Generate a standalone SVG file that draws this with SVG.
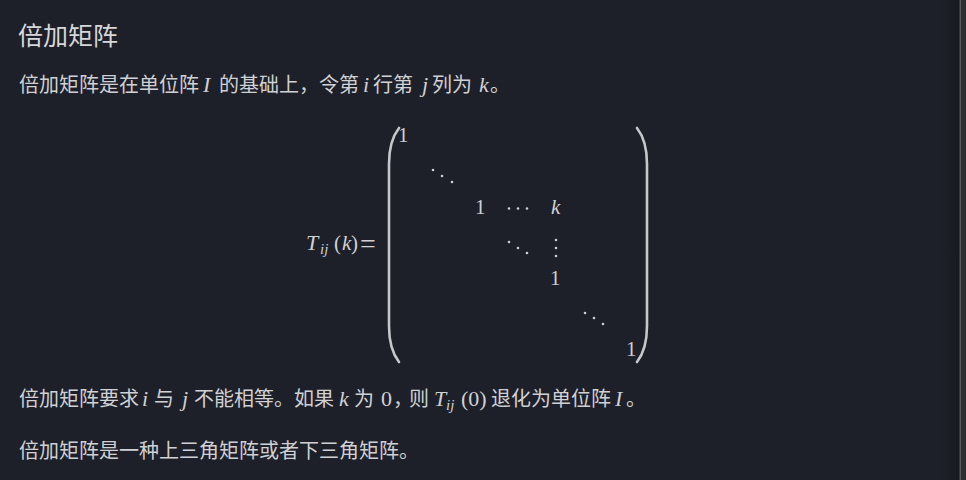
<svg xmlns="http://www.w3.org/2000/svg" width="966" height="480" viewBox="0 0 966 480">
<defs>
<linearGradient id="edge" x1="0" y1="0" x2="1" y2="0">
<stop offset="0" stop-color="#1e2029" stop-opacity="0"/>
<stop offset="1" stop-color="#17191f" stop-opacity="1"/>
</linearGradient>
<style>
.cjk{font-family:"Noto Sans CJK SC","Noto Sans",sans-serif;fill:#d0d1d4;font-size:20px}
.ttl{font-family:"Noto Sans CJK SC","Noto Sans",sans-serif;fill:#d6d7da;font-size:25px}
.m{font-family:"Liberation Serif","DejaVu Serif",serif;fill:#d0d1d4;font-size:22px}
.mi{font-style:italic}
.sub{font-size:15px}
.big{font-size:21px}
.dot{fill:#cdced1}
.par{fill:none;stroke:#c6c7ca;stroke-width:2.6;stroke-linecap:round}
</style>
</defs>
<rect x="0" y="0" width="966" height="480" fill="#1e2029"/>
<rect x="935" y="0" width="25" height="480" fill="url(#edge)"/>
<rect x="959.5" y="0" width="1.5" height="480" fill="#5a5b5e"/>
<rect x="961" y="0" width="5" height="480" fill="#2e2f31"/>

<g id="title"><text class="ttl" x="18" y="45">倍加矩阵</text></g>

<g id="line1">
<text class="cjk" x="19" y="92">倍加矩阵是在单位阵</text>
<text class="m mi" x="203" y="92">I</text>
<text class="cjk" x="219" y="92">的基础上，令第</text>
<text class="m mi" x="363" y="92">i</text>
<text class="cjk" x="373" y="92">行第</text>
<text class="m mi" x="422" y="92">j</text>
<text class="cjk" x="432" y="92">列为</text>
<text class="m mi" x="479" y="92">k</text>
<text class="cjk" x="490" y="92">。</text>
</g>

<g id="equation">
<text class="m big"><tspan class="mi" x="306" y="250" style="font-size:22px">T</tspan><tspan class="sub mi" x="320" y="254">ij</tspan><tspan x="334" y="250">(</tspan><tspan class="mi" x="342" y="250">k</tspan><tspan x="351" y="250">)</tspan></text>
<text class="m" x="360" y="253" style="font-size:28px">=</text>
<path class="par" d="M399 128 C392 137 389 148 389 164 L389 326 C389 342 392 353 399 362"/>
<path class="par" d="M637 128 C644 137 647 148 647 164 L647 326 C647 342 644 353 637 362"/>
<text class="m big" x="398" y="142">1</text>
<circle class="dot" cx="433" cy="170" r="1.3"/>
<circle class="dot" cx="442" cy="176" r="1.3"/>
<circle class="dot" cx="452" cy="182" r="1.3"/>
<text class="m big" x="475" y="214">1</text>
<circle class="dot" cx="509" cy="208.5" r="1.3"/>
<circle class="dot" cx="518" cy="208.5" r="1.3"/>
<circle class="dot" cx="527" cy="208.5" r="1.3"/>
<text class="m mi big" x="551" y="214">k</text>
<circle class="dot" cx="509" cy="242" r="1.3"/>
<circle class="dot" cx="518" cy="248" r="1.3"/>
<circle class="dot" cx="527" cy="253" r="1.3"/>
<circle class="dot" cx="556" cy="240" r="1.3"/>
<circle class="dot" cx="556" cy="248" r="1.3"/>
<circle class="dot" cx="556" cy="256" r="1.3"/>
<text class="m big" x="550" y="285">1</text>
<circle class="dot" cx="585" cy="313" r="1.3"/>
<circle class="dot" cx="594" cy="318" r="1.3"/>
<circle class="dot" cx="603" cy="324" r="1.3"/>
<text class="m big" x="626" y="356">1</text>
</g>

<g id="line2">
<text class="cjk" x="19" y="406">倍加矩阵要求</text>
<text class="m mi" x="142" y="406">i</text>
<text class="cjk" x="154" y="406">与</text>
<text class="m mi" x="182" y="406">j</text>
<text class="cjk" x="194" y="406">不能相等。如果</text>
<text class="m mi" x="339" y="406">k</text>
<text class="cjk" x="354" y="406">为</text>
<text class="m" x="381" y="406">0</text>
<text class="cjk" x="393" y="406" letter-spacing="-4">，则</text>
<text class="m"><tspan class="mi" x="434" y="406">T</tspan><tspan class="mi sub" x="446" y="410">ij</tspan><tspan x="461" y="406">(0)</tspan></text>
<text class="cjk" x="491" y="406">退化为单位阵</text>
<text class="m mi" x="615" y="406">I</text>
<text class="cjk" x="626" y="406">。</text>
</g>

<g id="line3">
<text class="cjk" x="19" y="458">倍加矩阵是一种上三角矩阵或者下三角矩阵。</text>
</g>
</svg>
